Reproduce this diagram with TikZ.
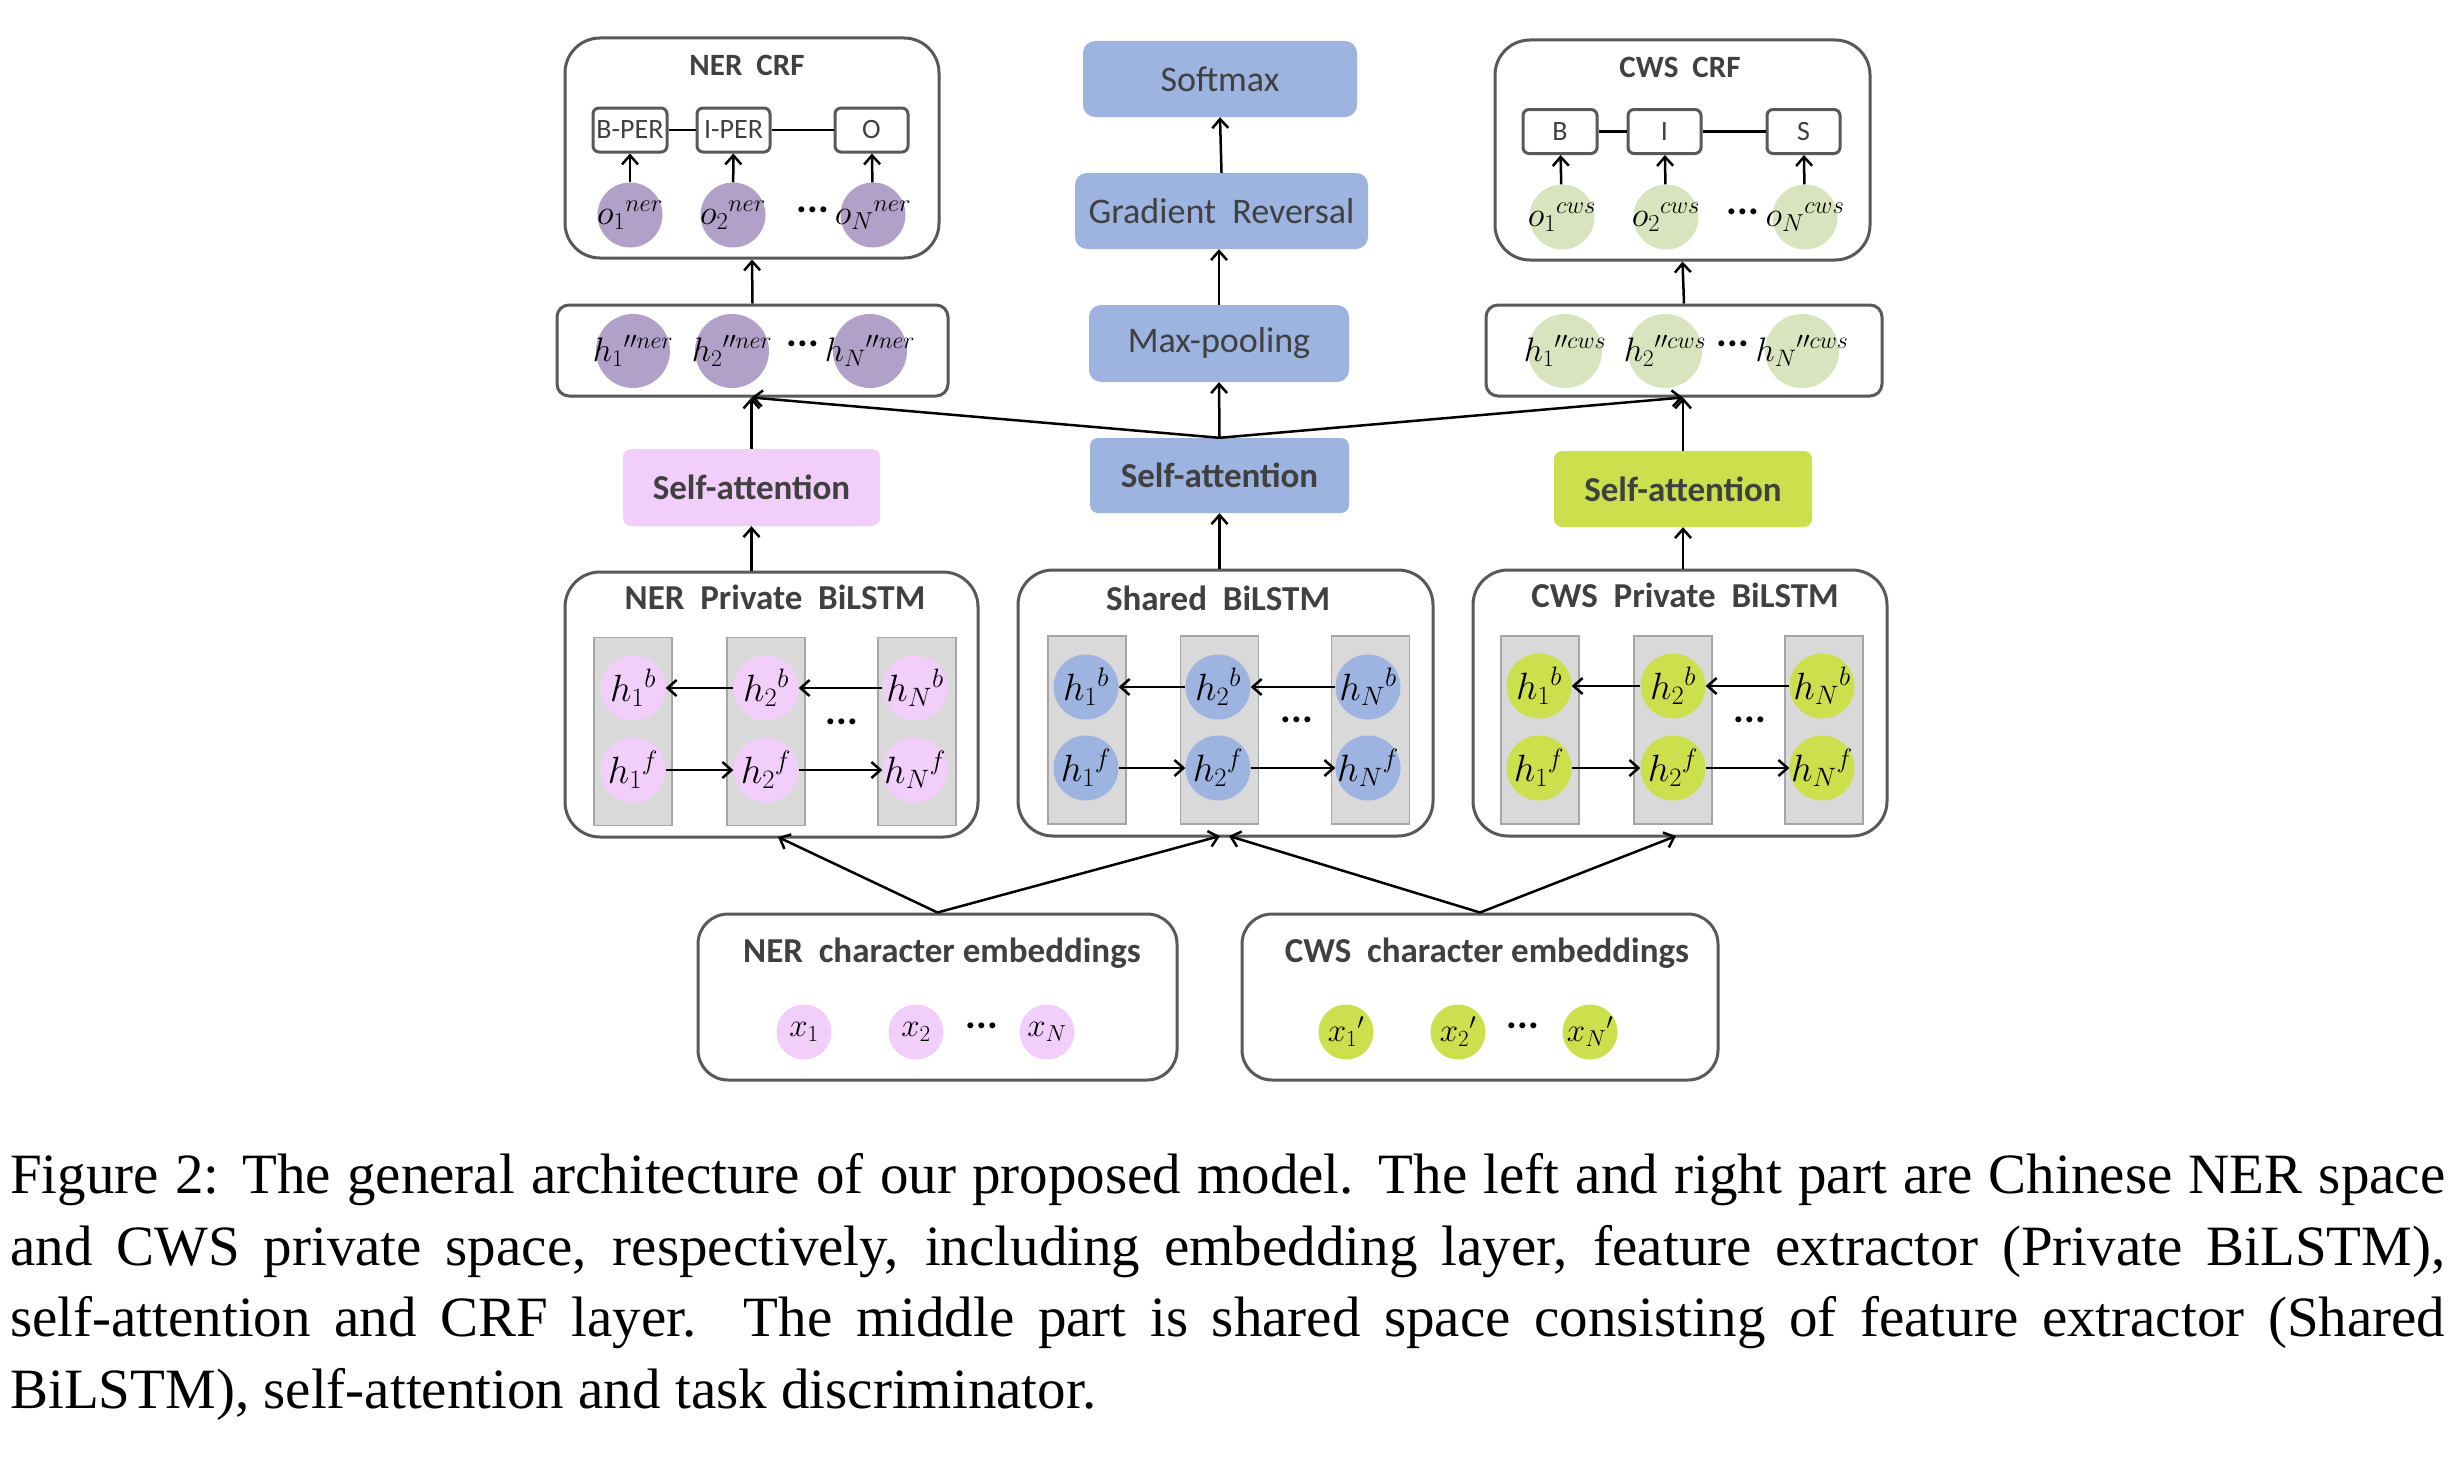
\RequirePackage{fix-cm}
\documentclass[tikz,border=0pt]{standalone}
\usepackage{fontspec}
\setmainfont{Liberation Serif}
\newfontfamily\cb{Carlito}
\usetikzlibrary{arrows.meta}
\definecolor{bordergray}{HTML}{595959}
\definecolor{textgray}{HTML}{404040}
\definecolor{purpleF}{HTML}{B1A0C7}
\definecolor{pinkF}{HTML}{F2CEFA}
\definecolor{blueF}{HTML}{9DB3E0}
\definecolor{greenF}{HTML}{CCE04E}
\definecolor{lgreenF}{HTML}{D7E4BD}
\definecolor{colgray}{HTML}{D9D9D9}
\definecolor{colborder}{HTML}{A6A6A6}
\newcommand{\lb}[1]{\makebox[0pt]{$#1$}}
\tikzset{
 bx/.style={draw=bordergray, line width=3pt, rounded corners=#1, inner sep=0pt},
 bx/.default=35pt,
 ttl/.style={font=\cb\bfseries\fontsize{35}{35}\selectfont, text=textgray, inner sep=0pt},
 blu/.style={fill=blueF, rounded corners=12pt, inner sep=0pt, font=\cb\fontsize{36}{36}\selectfont, text=textgray},
 sabox/.style={rounded corners=8pt, inner sep=0pt, font=\cb\bfseries\fontsize{35}{35}\selectfont, text=textgray, minimum height=76pt},
 tag/.style={draw=bordergray, line width=3pt, rounded corners=6pt, fill=white, minimum width=74pt, minimum height=44pt, inner sep=0pt, font=\cb\fontsize{28}{28}\selectfont, text=textgray},
 cir/.style={circle, inner sep=0pt, minimum size=#1, font=\fontsize{38}{38}\selectfont},
 colbox/.style={fill=colgray, draw=colborder, line width=1.5pt, minimum width=78pt, minimum height=188pt, inner sep=0pt},
 arr/.style={-{Straight Barb[length=9pt,width=16pt]}, line width=2.5pt},
 ln/.style={line width=2.5pt},
 dotsn/.style={font=\cb\bfseries\fontsize{40}{40}\selectfont, inner sep=0pt},
 captionstyle/.style={anchor=north west, inner sep=0pt, text width=2435pt, align=justify, font=\fontsize{57}{71.7}\selectfont}
}
\begin{document}
\begin{tikzpicture}[x=1pt,y=-1pt]
\useasboundingbox (0,0) rectangle (2454,1464);
\fill[white] (0,0) rectangle (2454,1464);

% ---------- NER CRF ----------
\node[bx, minimum width=374pt, minimum height=220pt] (nercrf) at (752,148) {};
\node[ttl, font=\cb\bfseries\fontsize{31}{31}\selectfont] (nercrft) at (747,65) {NER\ \ CRF};
\node[tag] (tBPER) at (630,130) {B-PER};
\node[tag, minimum width=73pt] (tIPER) at (733.5,130) {I-PER};
\node[tag, minimum width=73pt] (tO) at (871.5,130) {O};
\node[cir=65pt, fill=purpleF, font=\fontsize{35}{35}\selectfont] (o1n) at (630,215) {\lb{o_1{}^{ner}}};
\node[cir=65pt, fill=purpleF, font=\fontsize{35}{35}\selectfont] (o2n) at (733,215) {\lb{o_2{}^{ner}}};
\node[cir=65pt, fill=purpleF, font=\fontsize{35}{35}\selectfont] (oNn) at (873,215) {\lb{o_N{}^{ner}}};
\node[dotsn] (dn1) at (813,210) {...};
\draw[ln] (tBPER) -- (tIPER);
\draw[ln] (tIPER) -- (tO);
\draw[arr] (o1n) -- (tBPER);
\draw[arr] (o2n) -- (tIPER);
\draw[arr] (oNn) -- (tO);

% h'' NER
\node[bx=12pt, minimum width=391pt, minimum height=91pt] (hner) at (752.5,350.5) {};
\node[cir=74pt, fill=purpleF, font=\fontsize{34}{34}\selectfont] (h1n) at (633,351) {\lb{h_1{}^{\prime\prime ner}}};
\node[cir=74pt, fill=purpleF, font=\fontsize{34}{34}\selectfont] (h2n) at (732,351) {\lb{h_2{}^{\prime\prime ner}}};
\node[cir=74pt, fill=purpleF, font=\fontsize{34}{34}\selectfont] (hNn) at (870,351) {\lb{h_N{}^{\prime\prime ner}}};
\node[dotsn] (dn2) at (803,344) {...};
\draw[arr] (hner.north) -- (nercrf.south);

% ---------- middle column ----------
\node[blu, minimum width=274pt, minimum height=76pt] (softmax) at (1220,79) {Softmax};
\node[blu, minimum width=293pt, minimum height=76pt] (grad) at (1221.5,211) {Gradient\ \ Reversal};
\node[blu, minimum width=260pt, minimum height=77pt] (maxp) at (1219,343.5) {Max-pooling};
\node[sabox, fill=blueF, minimum width=259pt, minimum height=75pt] (samid) at (1219.5,475.5) {Self-attention};
\draw[arr] (maxp.north) -- (maxp.north |- grad.south) ;
\draw[arr] (grad.north) -- (softmax.south);
\draw[arr] (samid.north) -- (maxp.south);

% ---------- CWS CRF ----------
\node[bx, minimum width=375pt, minimum height=220pt] (cwscrf) at (1682.5,150) {};
\node[ttl, font=\cb\bfseries\fontsize{31}{31}\selectfont] (cwscrft) at (1680,67) {CWS\ \ CRF};
\node[tag] (tB) at (1560,131.5) {B};
\node[tag, minimum width=73pt] (tI) at (1664.5,131.5) {I};
\node[tag, minimum width=73pt] (tS) at (1803.5,131.5) {S};
\node[cir=65pt, fill=lgreenF, font=\fontsize{35}{35}\selectfont] (o1c) at (1562,217) {\lb{o_1{}^{cws}}};
\node[cir=65pt, fill=lgreenF, font=\fontsize{35}{35}\selectfont] (o2c) at (1666,217) {\lb{o_2{}^{cws}}};
\node[cir=65pt, fill=lgreenF, font=\fontsize{35}{35}\selectfont] (oNc) at (1805,217) {\lb{o_N{}^{cws}}};
\node[dotsn] (dc1) at (1743,212) {...};
\draw[ln] (tB) -- (tI);
\draw[ln] (tI) -- (tS);
\draw[arr] (o1c) -- (tB);
\draw[arr] (o2c) -- (tI);
\draw[arr] (oNc) -- (tS);

% h'' CWS
\node[bx=12pt, minimum width=396pt, minimum height=91pt] (hcws) at (1684,350.5) {};
\node[cir=74pt, fill=lgreenF, font=\fontsize{34}{34}\selectfont] (h1c) at (1565,351) {\lb{h_1{}^{\prime\prime cws}}};
\node[cir=74pt, fill=lgreenF, font=\fontsize{34}{34}\selectfont] (h2c) at (1665,351) {\lb{h_2{}^{\prime\prime cws}}};
\node[cir=74pt, fill=lgreenF, font=\fontsize{34}{34}\selectfont] (hNc) at (1802,351) {\lb{h_N{}^{\prime\prime cws}}};
\node[dotsn] (dc2) at (1733,344) {...};
\draw[arr] (hcws.north) -- (cwscrf.south);

% ---------- self-attention boxes ----------
\node[sabox, fill=pinkF, minimum width=257pt, minimum height=77pt] (sapink) at (751.5,487.5) {Self-attention};
\node[sabox, fill=greenF, minimum width=258pt, minimum height=76pt] (sagreen) at (1683,489) {Self-attention};
\draw[arr] (sapink.north) -- (sapink.north |- hner.south);
\draw[arr] (sagreen.north) -- (sagreen.north |- hcws.south);
\draw[arr] (samid.north) -- (sapink.north |- hner.south);
\draw[arr] (samid.north) -- (sagreen.north |- hcws.south);

% ---------- BiLSTMs ----------
\node[bx, minimum width=413pt, minimum height=265pt] (bilner) at (771.5,704.5) {};
\node[ttl] (bilnert) at (775,597) {NER\ \ Private\ \ BiLSTM};
\node[colbox] (cn1) at (633,731.5) {};
\node[colbox] (cn2) at (766,731.5) {};
\node[colbox] (cn3) at (917,731.5) {};
\node[cir=65pt, fill=pinkF] (n1b) at (633,688) {\lb{h_1{}^{b}}};
\node[cir=65pt, fill=pinkF] (n2b) at (766,688) {\lb{h_2{}^{b}}};
\node[cir=65pt, fill=pinkF] (nNb) at (915,688) {\lb{h_N{}^{b}}};
\node[cir=65pt, fill=pinkF] (n1f) at (633,770) {\lb{h_1{}^{f}}};
\node[cir=65pt, fill=pinkF] (n2f) at (766,770) {\lb{h_2{}^{f}}};
\node[cir=65pt, fill=pinkF] (nNf) at (915,770) {\lb{h_N{}^{f}}};
\node[dotsn] (dn3) at (842,722) {...};
\draw[arr] (n2b) -- (n1b);
\draw[arr] (nNb) -- (n2b);
\draw[arr] (n1f) -- (n2f);
\draw[arr] (n2f) -- (nNf);
\draw[arr] (sapink.south |- bilner.north) -- (sapink.south);

\node[bx, minimum width=415pt, minimum height=266pt] (bilsh) at (1225.5,703) {};
\node[ttl] (bilsht) at (1218,598) {Shared\ \ BiLSTM};
\node[colbox] (cs1) at (1087,730) {};
\node[colbox] (cs2) at (1219.5,730) {};
\node[colbox] (cs3) at (1370.5,730) {};
\node[cir=65pt, fill=blueF] (s1b) at (1086,687) {\lb{h_1{}^{b}}};
\node[cir=65pt, fill=blueF] (s2b) at (1218,687) {\lb{h_2{}^{b}}};
\node[cir=65pt, fill=blueF] (sNb) at (1368,687) {\lb{h_N{}^{b}}};
\node[cir=65pt, fill=blueF] (s1f) at (1086,768) {\lb{h_1{}^{f}}};
\node[cir=65pt, fill=blueF] (s2f) at (1218,768) {\lb{h_2{}^{f}}};
\node[cir=65pt, fill=blueF] (sNf) at (1368,768) {\lb{h_N{}^{f}}};
\node[dotsn] (ds3) at (1297,720) {...};
\draw[arr] (s2b) -- (s1b);
\draw[arr] (sNb) -- (s2b);
\draw[arr] (s1f) -- (s2f);
\draw[arr] (s2f) -- (sNf);
\draw[arr] (samid.south |- bilsh.north) -- (samid.south);

\node[bx, minimum width=414pt, minimum height=266pt] (bilcws) at (1680,703) {};
\node[ttl] (bilcwst) at (1685,595) {CWS\ \ Private\ \ BiLSTM};
\node[colbox] (cc1) at (1540,730) {};
\node[colbox] (cc2) at (1673,730) {};
\node[colbox] (cc3) at (1824,730) {};
\node[cir=65pt, fill=greenF] (c1b) at (1539,686) {\lb{h_1{}^{b}}};
\node[cir=65pt, fill=greenF] (c2b) at (1673,686) {\lb{h_2{}^{b}}};
\node[cir=65pt, fill=greenF] (cNb) at (1822,686) {\lb{h_N{}^{b}}};
\node[cir=65pt, fill=greenF] (c1f) at (1539,768) {\lb{h_1{}^{f}}};
\node[cir=65pt, fill=greenF] (c2f) at (1673,768) {\lb{h_2{}^{f}}};
\node[cir=65pt, fill=greenF] (cNf) at (1822,768) {\lb{h_N{}^{f}}};
\node[dotsn] (dc3) at (1750,720) {...};
\draw[arr] (c2b) -- (c1b);
\draw[arr] (cNb) -- (c2b);
\draw[arr] (c1f) -- (c2f);
\draw[arr] (c2f) -- (cNf);
\draw[arr] (sagreen.south |- bilcws.north) -- (sagreen.south);

% ---------- embeddings ----------
\node[bx=30pt, minimum width=479pt, minimum height=166pt] (embner) at (937.5,997) {};
\node[ttl] (embnert) at (942,953) {NER\ \ character embeddings};
\node[cir=55pt, fill=pinkF, font=\fontsize{33}{33}\selectfont] (x1) at (804,1032) {\lb{x_1}};
\node[cir=55pt, fill=pinkF, font=\fontsize{33}{33}\selectfont] (x2) at (916,1032) {\lb{x_2}};
\node[cir=55pt, fill=pinkF, font=\fontsize{33}{33}\selectfont] (xN) at (1047,1032) {\lb{x_N}};
\node[dotsn] (de1) at (982,1026) {...};

\node[bx=30pt, minimum width=476pt, minimum height=166pt] (embcws) at (1480,997) {};
\node[ttl] (embcwst) at (1487,953) {CWS\ \ character embeddings};
\node[cir=55pt, fill=greenF, font=\fontsize{33}{33}\selectfont] (y1) at (1346,1032) {\lb{x_1{}'}};
\node[cir=55pt, fill=greenF, font=\fontsize{33}{33}\selectfont] (y2) at (1458,1032) {\lb{x_2{}'}};
\node[cir=55pt, fill=greenF, font=\fontsize{33}{33}\selectfont] (yN) at (1590,1032) {\lb{x_N{}'}};
\node[dotsn] (de2) at (1523,1026) {...};

\coordinate (tnerb) at (778,837);
\coordinate (tsh1) at (1220,836);
\coordinate (tsh2) at (1229,836);
\coordinate (tcwsb) at (1676,836);
\draw[arr] (embner.north) -- (tnerb);
\draw[arr] (embner.north) -- (tsh1);
\draw[arr] (embcws.north) -- (tsh2);
\draw[arr] (embcws.north) -- (tcwsb);

% ---------- caption ----------
\node[captionstyle] (caption) at (10,1153) {\tolerance=9999\hyphenpenalty=10000 Figure 2: The general architecture of our proposed model. The left and right part are Chinese NER space\linebreak and CWS private space, respectively, including embedding layer, feature extractor (Private BiLSTM),\linebreak self-attention and CRF layer.\ \ The middle part is shared space consisting of feature extractor (Shared\linebreak BiLSTM), self-attention and task discriminator.};
\end{tikzpicture}
\end{document}
